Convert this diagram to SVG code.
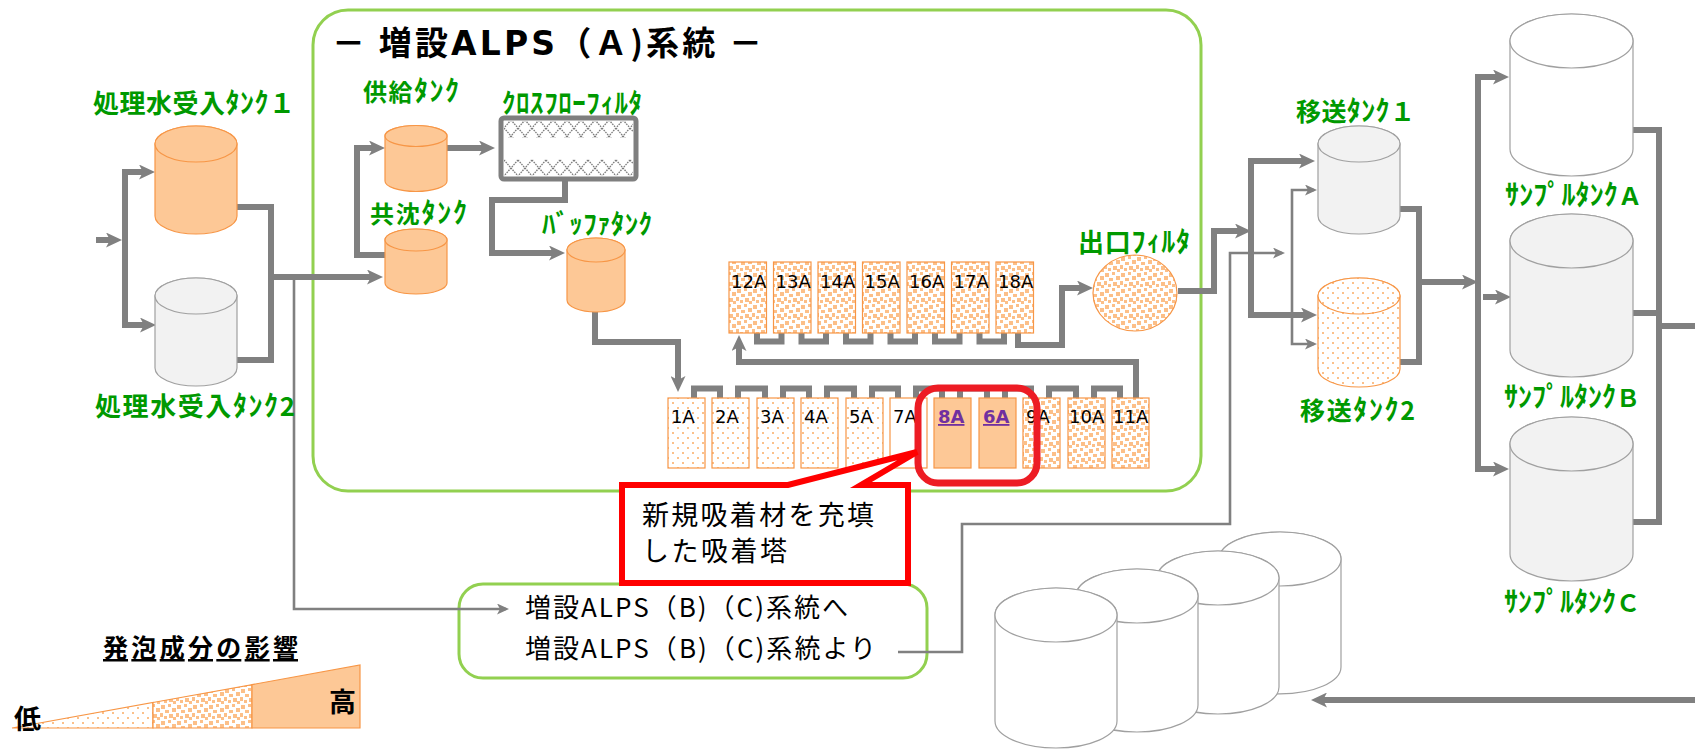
<svg xmlns="http://www.w3.org/2000/svg" width="1695" height="750" viewBox="0 0 1695 750">
<style>
.lbl{font-family:'Noto Sans CJK JP',sans-serif;font-weight:700;fill:#009900}
.kn{font-size:28px}
.blk{font-family:'Noto Sans CJK JP',sans-serif;fill:#000}
.lat{font-family:'DejaVu Sans',sans-serif}
.col{font-family:'DejaVu Sans',sans-serif;font-size:18px;fill:#000}
.hl{font-family:'DejaVu Sans',sans-serif;font-size:18px;font-weight:700;fill:#7030a0;text-decoration:underline}
.pipe{fill:none;stroke:#808080;stroke-width:6;stroke-linejoin:miter}
.thin{fill:none;stroke:#808080;stroke-width:2.6}
.og{stroke:#f79646;stroke-width:1.2}
.gy{stroke:#a0a0a0;stroke-width:1.2}
.grn{fill:none;stroke:#92d050;stroke-width:3}
</style>
<defs>
<marker id="ah" viewBox="0 0 16 15" markerWidth="16" markerHeight="15" refX="9" refY="7.5" orient="auto" markerUnits="userSpaceOnUse"><path d="M0,0 L16,7.5 L0,15 L4,7.5 Z" fill="#808080"/></marker>
<marker id="at" viewBox="0 0 12 11" markerWidth="12" markerHeight="11" refX="9" refY="5.5" orient="auto" markerUnits="userSpaceOnUse"><path d="M0,0 L12,5.5 L0,11 L3,5.5 Z" fill="#808080"/></marker>
<pattern id="dots" width="10" height="10" patternUnits="userSpaceOnUse"><rect width="10" height="10" fill="#fff"/><rect x="2" y="2" width="2" height="2" fill="#fbc08a"/><rect x="7" y="7" width="2" height="2" fill="#fbc08a"/></pattern>
<pattern id="conf" width="16" height="16" patternUnits="userSpaceOnUse"><rect width="16" height="16" fill="#fff"/><g fill="#fcbf88"><rect x="1" y="1" width="4" height="4"/><rect x="8" y="0" width="3" height="3"/><rect x="12" y="4" width="4" height="4"/><rect x="5" y="6" width="4" height="3"/><rect x="0" y="9" width="3" height="4"/><rect x="9" y="10" width="4" height="4"/><rect x="4" y="12" width="3" height="3"/><rect x="13" y="13" width="3" height="3"/></g></pattern>
<pattern id="lat" width="14" height="16" patternUnits="userSpaceOnUse"><rect width="14" height="16" fill="#fff"/><path d="M0,0 L14,16 M14,0 L0,16" stroke="#7a7a7a" stroke-width="1.3" stroke-dasharray="1.6 1"/></pattern>
</defs>
<rect width="1695" height="750" fill="#fff"/>

<g id="systemA-frame">
<rect class="grn" x="313" y="10" width="888" height="481" rx="35"/>
<text class="blk" x="332" y="55" font-size="33" font-weight="700" textLength="430" lengthAdjust="spacing">－ 増設<tspan class="lat">ALPS</tspan>（Ａ)系統 －</text>
</g>
<g id="bc-box">
<rect class="grn" x="459" y="584" width="468" height="94" rx="24"/>
<text class="blk" x="525" y="617" font-size="26" textLength="323" lengthAdjust="spacing">増設ALPS（B)（C)系統へ</text>
<text class="blk" x="525" y="658" font-size="26" textLength="351" lengthAdjust="spacing">増設ALPS（B)（C)系統より</text>
</g>

<g id="connectors">
<path class="pipe" d="M96,240 H115" marker-end="url(#ah)"/>
<path class="pipe" d="M125,240 V172 H148" marker-end="url(#ah)"/>
<path class="pipe" d="M125,240 V325 H149" marker-end="url(#ah)"/>
<path class="pipe" d="M237,207 H271 V360 H237"/>
<path class="pipe" d="M271,277 H376" marker-end="url(#ah)"/>
<path class="thin" d="M294,277 V609 H506" marker-end="url(#at)"/>
<path class="pipe" d="M385,255 H357 V148 H378" marker-end="url(#ah)"/>
<path class="pipe" d="M447,148 H488" marker-end="url(#ah)"/>
<path class="pipe" d="M565,179 V200 H492 V253 H558" marker-end="url(#ah)"/>
<path class="pipe" d="M595,312 V342 H678 V385" marker-end="url(#ah)"/>
<path class="pipe" stroke-width="7" d="M694,398 V388.5 H720 V398 M738,398 V388.5 H765 V398 M783,398 V388.5 H809 V398 M827,398 V388.5 H854 V398 M872,398 V388.5 H898 V398 M916,398 V388.5 H942 V398 M960,398 V388.5 H987 V398 M1005,398 V388.5 H1031 V398 M1049,398 V388.5 H1076 V398 M1094,398 V388.5 H1120 V398"/>
<path class="pipe" d="M1136,398 V362 H739 V342" marker-end="url(#ah)"/>
<path class="pipe" stroke-width="7" d="M757,333 V341.5 H781.5 V333 M801.5,333 V341.5 H826 V333 M846,333 V341.5 H870.5 V333 M890.5,333 V341.5 H915 V333 M935,333 V341.5 H959.5 V333 M979.5,333 V341.5 H1004 V333"/>
<path class="pipe" d="M1018,333 V345 H1062 V288 H1086" marker-end="url(#ah)"/>
<path class="pipe" d="M1178,291 H1214 V231 H1244" marker-end="url(#ah)"/>
<path class="pipe" d="M1251,231 V161 H1308" marker-end="url(#ah)"/>
<path class="pipe" d="M1251,231 V315 H1310" marker-end="url(#ah)"/>
<path class="thin" d="M898,652 H962 V524 H1230 V253 H1282" marker-end="url(#at)"/>
<path class="thin" d="M1292,253 V190 H1314" marker-end="url(#at)"/>
<path class="thin" d="M1292,253 V344 H1314" marker-end="url(#at)"/>
<path class="pipe" d="M1400,209 H1419 V362 H1400"/>
<path class="pipe" d="M1419,282 H1471" marker-end="url(#ah)"/>
<path class="pipe" d="M1478,282 V77 H1502" marker-end="url(#ah)"/>
<path class="pipe" d="M1478,282 V469 H1502" marker-end="url(#ah)"/>
<path class="pipe" d="M1483,297 H1504" marker-end="url(#ah)"/>
<path class="pipe" d="M1633,130 H1659 V522 H1633"/>
<path class="pipe" d="M1633,313 H1659"/>
<path class="pipe" d="M1659,326 H1695"/>
<path class="pipe" d="M1695,700 H1318" marker-end="url(#ah)"/>
</g>

<g id="tank-recv1">
<text class="lbl" x="93" y="113" font-size="26" textLength="202" lengthAdjust="spacing">処理水受入<tspan class="kn">ﾀﾝｸ</tspan>１</text>
<path class="og" fill="#fdc896" d="M155,144 V216 A41,18 0 0 0 237,216 V144 A41,18 0 0 0 155,144 Z"/>
<ellipse class="og" fill="#fdc896" cx="196" cy="144" rx="41" ry="18"/>
</g>
<g id="tank-recv2">
<path class="gy" fill="#f2f2f2" d="M155,296 V368 A41,18 0 0 0 237,368 V296 A41,18 0 0 0 155,296 Z"/>
<ellipse class="gy" fill="#f2f2f2" cx="196" cy="296" rx="41" ry="18"/>
<text class="lbl" x="95" y="416" font-size="26" textLength="200" lengthAdjust="spacing">処理水受入<tspan class="kn">ﾀﾝｸ</tspan>2</text>
</g>
<g id="tank-supply">
<text class="lbl" x="363" y="101" font-size="24" textLength="96" lengthAdjust="spacing">供給<tspan class="kn">ﾀﾝｸ</tspan></text>
<path class="og" fill="#fdc896" d="M385,136 V181 A31,10.5 0 0 0 447,181 V136 A31,10.5 0 0 0 385,136 Z"/>
<ellipse class="og" fill="#fdc896" cx="416" cy="136" rx="31" ry="10.5"/>
</g>
<g id="tank-coprecip">
<text class="lbl" x="370" y="223" font-size="24" textLength="97" lengthAdjust="spacing">共沈<tspan class="kn">ﾀﾝｸ</tspan></text>
<path class="og" fill="#fdc896" d="M385,240 V283 A31,11 0 0 0 447,283 V240 A31,11 0 0 0 385,240 Z"/>
<ellipse class="og" fill="#fdc896" cx="416" cy="240" rx="31" ry="11"/>
</g>
<g id="crossflow-filter">
<text class="lbl" x="502" y="113" font-size="27" textLength="140" lengthAdjust="spacing">ｸﾛｽﾌﾛｰﾌｨﾙﾀ</text>
<rect x="501" y="118" width="135" height="61" rx="3" fill="#fff" stroke="#7f7f7f" stroke-width="5"/>
<rect x="504" y="121" width="129" height="17" fill="url(#lat)"/>
<rect x="504" y="159" width="129" height="17" fill="url(#lat)"/>
</g>
<g id="tank-buffer">
<text class="lbl" x="542" y="234" font-size="27" textLength="110" lengthAdjust="spacing">ﾊﾞｯﾌｧﾀﾝｸ</text>
<path class="og" fill="#fdc896" d="M567,250 V300 A29,12 0 0 0 625,300 V250 A29,12 0 0 0 567,250 Z"/>
<ellipse class="og" fill="#fdc896" cx="596" cy="250" rx="29" ry="12"/>
</g>

<g id="towers-upper">
<rect class="og" fill="url(#conf)" x="729" y="262" width="37.5" height="71"/>
<rect class="og" fill="url(#conf)" x="773.5" y="262" width="37.5" height="71"/>
<rect class="og" fill="url(#conf)" x="818" y="262" width="37.5" height="71"/>
<rect class="og" fill="url(#conf)" x="862.5" y="262" width="37.5" height="71"/>
<rect class="og" fill="url(#conf)" x="907" y="262" width="37.5" height="71"/>
<rect class="og" fill="url(#conf)" x="951.5" y="262" width="37.5" height="71"/>
<rect class="og" fill="url(#conf)" x="996" y="262" width="37.5" height="71"/>
<text class="col" x="731" y="288">12A</text>
<text class="col" x="775.5" y="288">13A</text>
<text class="col" x="820" y="288">14A</text>
<text class="col" x="864.5" y="288">15A</text>
<text class="col" x="909" y="288">16A</text>
<text class="col" x="953.5" y="288">17A</text>
<text class="col" x="998" y="288">18A</text>
</g>
<g id="towers-lower">
<rect class="og" fill="url(#dots)" x="668" y="398" width="37" height="70"/>
<rect class="og" fill="url(#dots)" x="712" y="398" width="37" height="70"/>
<rect class="og" fill="url(#dots)" x="757" y="398" width="37" height="70"/>
<rect class="og" fill="url(#dots)" x="801" y="398" width="37" height="70"/>
<rect class="og" fill="url(#dots)" x="846" y="398" width="37" height="70"/>
<rect class="og" fill="#fff" x="890" y="398" width="37" height="70"/>
<rect class="og" fill="#fdc896" x="934" y="398" width="37" height="70"/>
<rect class="og" fill="#fdc896" x="979" y="398" width="37" height="70"/>
<rect class="og" fill="url(#conf)" x="1023" y="398" width="37" height="70"/>
<rect class="og" fill="url(#conf)" x="1068" y="398" width="37" height="70"/>
<rect class="og" fill="url(#conf)" x="1112" y="398" width="37" height="70"/>
<text class="col" x="671" y="423">1A</text>
<text class="col" x="715" y="423">2A</text>
<text class="col" x="760" y="423">3A</text>
<text class="col" x="804" y="423">4A</text>
<text class="col" x="849" y="423">5A</text>
<text class="col" x="893" y="423">7A</text>
<text class="hl" x="938" y="423">8A</text>
<text class="hl" x="983" y="423">6A</text>
<text class="col" x="1026" y="423">9A</text>
<text class="col" x="1069" y="423">10A</text>
<text class="col" x="1113" y="423">11A</text>
</g>
<g id="outlet-filter">
<text class="lbl" x="1078" y="252" font-size="26" textLength="112" lengthAdjust="spacing">出口<tspan class="kn">ﾌｨﾙﾀ</tspan></text>
<ellipse class="og" fill="url(#conf)" cx="1135" cy="293" rx="42" ry="38"/>
</g>
<g id="tank-transfer1">
<text class="lbl" x="1296" y="121" font-size="25" textLength="119" lengthAdjust="spacing">移送<tspan class="kn">ﾀﾝｸ</tspan>１</text>
<path class="gy" fill="#f2f2f2" d="M1318,144 V216 A41,18 0 0 0 1400,216 V144 A41,18 0 0 0 1318,144 Z"/>
<ellipse class="gy" fill="#f2f2f2" cx="1359" cy="144" rx="41" ry="18"/>
</g>
<g id="tank-transfer2">
<path class="og" fill="url(#dots)" d="M1318,296 V369 A41,18 0 0 0 1400,369 V296 A41,18 0 0 0 1318,296 Z"/>
<ellipse class="og" fill="url(#dots)" cx="1359" cy="296" rx="41" ry="18"/>
<text class="lbl" x="1300" y="420" font-size="25" textLength="115" lengthAdjust="spacing">移送<tspan class="kn">ﾀﾝｸ</tspan>2</text>
</g>
<g id="tank-sampleA">
<path class="gy" fill="#fff" d="M1510,41 V149 A61.5,27 0 0 0 1633,149 V41 A61.5,27 0 0 0 1510,41 Z"/>
<ellipse class="gy" fill="#fff" cx="1571.5" cy="41" rx="61.5" ry="27"/>
<text class="lbl" x="1505" y="205" font-size="24" textLength="137" lengthAdjust="spacing"><tspan class="kn">ｻﾝﾌﾟﾙﾀﾝｸ</tspan>Ａ</text>
</g>
<g id="tank-sampleB">
<path class="gy" fill="#f2f2f2" d="M1510,241 V350 A61.5,27 0 0 0 1633,350 V241 A61.5,27 0 0 0 1510,241 Z"/>
<ellipse class="gy" fill="#f2f2f2" cx="1571.5" cy="241" rx="61.5" ry="27"/>
<text class="lbl" x="1504" y="407" font-size="24" textLength="136" lengthAdjust="spacing"><tspan class="kn">ｻﾝﾌﾟﾙﾀﾝｸ</tspan>Ｂ</text>
</g>
<g id="tank-sampleC">
<path class="gy" fill="#f2f2f2" d="M1510,444 V554 A61.5,27 0 0 0 1633,554 V444 A61.5,27 0 0 0 1510,444 Z"/>
<ellipse class="gy" fill="#f2f2f2" cx="1571.5" cy="444" rx="61.5" ry="27"/>
<text class="lbl" x="1504" y="612" font-size="24" textLength="136" lengthAdjust="spacing"><tspan class="kn">ｻﾝﾌﾟﾙﾀﾝｸ</tspan>Ｃ</text>
</g>
<g id="tank-group">
<path class="gy" fill="#fff" d="M1219,559 V667 A61,27 0 0 0 1341,667 V559 A61,27 0 0 0 1219,559 Z"/>
<ellipse class="gy" fill="#fff" cx="1280" cy="559" rx="61" ry="27"/>
<path class="gy" fill="#fff" d="M1157,578 V687 A61,27 0 0 0 1279,687 V578 A61,27 0 0 0 1157,578 Z"/>
<ellipse class="gy" fill="#fff" cx="1218" cy="578" rx="61" ry="27"/>
<path class="gy" fill="#fff" d="M1076,596 V705 A61,27 0 0 0 1198,705 V596 A61,27 0 0 0 1076,596 Z"/>
<ellipse class="gy" fill="#fff" cx="1137" cy="596" rx="61" ry="27"/>
<path class="gy" fill="#fff" d="M995,615 V721 A61,27 0 0 0 1117,721 V615 A61,27 0 0 0 995,615 Z"/>
<ellipse class="gy" fill="#fff" cx="1056" cy="615" rx="61" ry="27"/>
</g>

<g id="highlight">
<rect x="918" y="388" width="119" height="95" rx="20" fill="none" stroke="#ed1c24" stroke-width="7"/>
</g>
<g id="callout">
<path d="M622,485 H788 L917,452 L861,485 H908 V583 H622 Z" fill="#fff" stroke="#ff0000" stroke-width="6"/>
<text class="blk" x="642" y="525" font-size="27" textLength="232" lengthAdjust="spacing">新規吸着材を充填</text>
<text class="blk" x="642" y="561" font-size="27" textLength="145" lengthAdjust="spacing">した吸着塔</text>
</g>

<g id="legend">
<text class="blk" x="103" y="657" font-size="25" font-weight="700" text-decoration="underline" textLength="195" lengthAdjust="spacing">発泡成分の影響</text>
<polygon class="og" fill="url(#dots)" points="12,728 153,702.5 153,728"/>
<polygon class="og" fill="url(#conf)" points="153,702.5 252,684.6 252,728 153,728"/>
<polygon class="og" fill="#fdc896" points="252,684.6 360,665 360,728 252,728"/>
<text class="blk" x="14" y="729" font-size="27" font-weight="700">低</text>
<text class="blk" x="329" y="712" font-size="27" font-weight="700">高</text>
</g>
</svg>
